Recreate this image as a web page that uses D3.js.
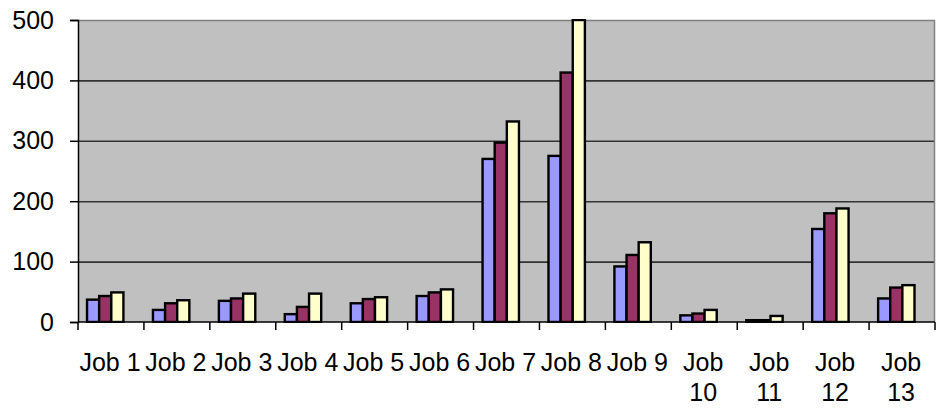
<!DOCTYPE html>
<html>
<head>
<meta charset="utf-8">
<script src="https://cdn.jsdelivr.net/npm/d3@7"></script>
<style>
  html, body { margin: 0; padding: 0; background: #fff; }
  svg { display: block; }
  text { font-family: "Liberation Sans", Arial, sans-serif; fill: #000; }
</style>
</head>
<body>
<div id="chart"></div>
<script>
const categories = ["Job 1","Job 2","Job 3","Job 4","Job 5","Job 6","Job 7","Job 8","Job 9","Job 10","Job 11","Job 12","Job 13"];
const series1 = [37, 20, 35, 13, 31, 43, 270, 275, 92, 11, 3, 154, 39];
const series2 = [43, 31, 39, 25, 38, 49, 297, 413, 111, 14, 3, 180, 57];
const series3 = [49, 36, 47, 47, 41, 54, 332, 500, 132, 20, 10, 188, 61];
const seriesColors = ["#9999FF", "#993366", "#FFFFCC"];
const yTicks = [0, 100, 200, 300, 400, 500];

const W = 938, H = 409;
const margin = {left: 78, right: 3, top: 20, bottom: 87};
const svg = d3.select("#chart").append("svg").attr("width", W).attr("height", H);

const x = d3.scaleBand().domain(categories).range([margin.left, W - margin.right]).padding(0);
const y = d3.scaleLinear().domain([0, 500]).range([H - margin.bottom, margin.top]);
const bw = x.bandwidth();

// plot background
svg.append("rect")
  .attr("x", margin.left).attr("y", margin.top)
  .attr("width", W - margin.right - margin.left)
  .attr("height", y(0) - margin.top)
  .attr("fill", "#C0C0C0");

// gridlines
svg.append("g").selectAll("line")
  .data(yTicks.filter(d => d > 0 && d < 500))
  .join("line")
  .attr("x1", margin.left).attr("x2", W - margin.right)
  .attr("y1", d => y(d) + 0.5).attr("y2", d => y(d) + 0.5)
  .attr("stroke", "#333").attr("stroke-width", 1.6);

// plot border top/right
svg.append("path")
  .attr("d", `M${margin.left},${margin.top + 0.5}H${W - margin.right - 0.5}V${y(0)}`)
  .attr("fill", "none").attr("stroke", "#808080").attr("stroke-width", 1.5);

// bars
const allSeries = [series1, series2, series3];
const barW = bw * 0.184;
const offset = bw * 0.137;
svg.append("clipPath").attr("id", "plotclip").append("rect")
  .attr("x", margin.left).attr("y", margin.top - 1)
  .attr("width", W - margin.right - margin.left).attr("height", y(0) - margin.top + 2);
allSeries.forEach((s, i) => {
  svg.append("g").attr("clip-path", "url(#plotclip)")
    .selectAll("rect").data(s).join("rect")
    .attr("x", (d, j) => x(categories[j]) + offset + i * barW)
    .attr("y", d => y(d))
    .attr("width", barW)
    .attr("height", d => y(0) - y(d))
    .attr("fill", seriesColors[i])
    .attr("stroke", "#000")
    .attr("stroke-width", 2.4);
});

// y axis
const yAxis = d3.axisLeft(y).tickValues(yTicks).tickSize(8).tickPadding(16).tickFormat(d3.format("d"));
const gy = svg.append("g").attr("transform", `translate(${margin.left},0)`).call(yAxis);
gy.select(".domain").attr("stroke", "#000").attr("stroke-width", 1.5);
gy.selectAll(".tick line").attr("stroke", "#000").attr("stroke-width", 1.5);
gy.selectAll(".tick text").style("font-size", "25px").attr("font-family", "Liberation Sans, Arial, sans-serif");

// x axis
const tickPos = categories.map(c => x(c)).concat([W - margin.right]);
svg.append("line")
  .attr("x1", margin.left).attr("x2", W - margin.right)
  .attr("y1", y(0)).attr("y2", y(0))
  .attr("stroke", "#000").attr("stroke-width", 1.5);
svg.append("g").selectAll("line").data(tickPos).join("line")
  .attr("x1", d => d).attr("x2", d => d)
  .attr("y1", y(0)).attr("y2", y(0) + 8)
  .attr("stroke", "#000").attr("stroke-width", 1.5);

const labels = svg.append("g").selectAll("text").data(categories).join("text")
  .attr("x", d => x(d) + bw / 2 - 1)
  .attr("y", y(0) + 49)
  .attr("text-anchor", "middle")
  .style("font-size", "25px");
labels.each(function(d) {
  const t = d3.select(this);
  t.text(d);
  if (this.getComputedTextLength() > bw) {
    t.text(null);
    const parts = d.split(" ");
    t.append("tspan").attr("x", x(d) + bw / 2 - 1).attr("dy", 0).text(parts[0]);
    t.append("tspan").attr("x", x(d) + bw / 2 - 1).attr("dy", 30).text(parts.slice(1).join(" "));
  }
});
</script>
</body>
</html>
